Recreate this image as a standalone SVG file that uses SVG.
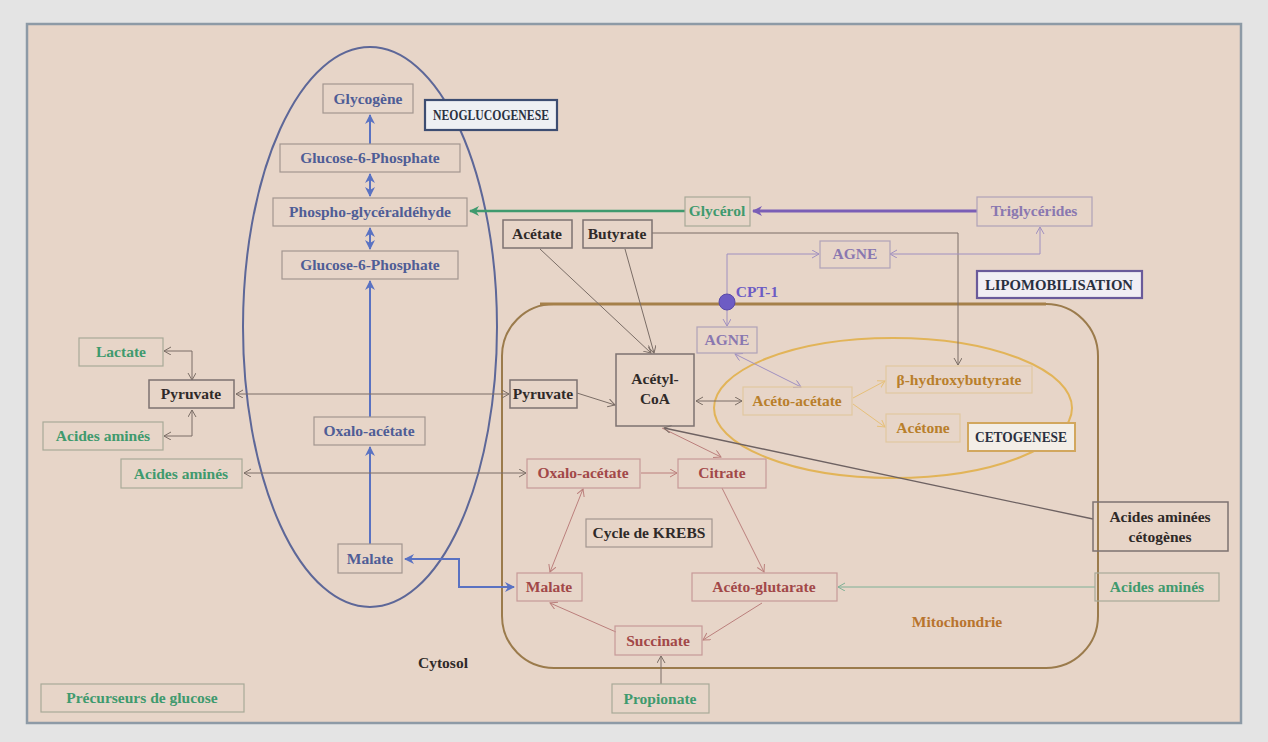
<svg xmlns="http://www.w3.org/2000/svg" width="1268" height="742" viewBox="0 0 1268 742">
<style>
  text { font-family: "Liberation Serif", "Times New Roman", serif; font-weight: bold; font-size: 15.5px; text-anchor: middle; }
  .box { fill: none; stroke: #a39790; stroke-width: 1.2; }
  .dbox { fill: none; stroke: #7d7270; stroke-width: 1.5; }
  .rbox { fill: none; stroke: #c79a98; stroke-width: 1.2; }
  .obox { fill: none; stroke: #e2c8a0; stroke-width: 1.2; }
  .gbox { fill: none; stroke: #a8aa98; stroke-width: 1.2; }
  .pbox { fill: none; stroke: #b0a2b8; stroke-width: 1.2; }
  .blue { fill: #4f5d96; }
  .green { fill: #3f9a6e; }
  .purple { fill: #8a78b0; }
  .dark { fill: #2f2a28; }
  .red { fill: #a24848; }
  .orange { fill: #b97f2c; }
  .lbl { fill: #2a3040; font-size: 14px; }
  .cb { fill: none; stroke: #5a72c2; stroke-width: 2; }
  .cg { fill: none; stroke: #7a6d66; stroke-width: 1; }
  .cr { fill: none; stroke: #bb7f7c; stroke-width: 1; }
  .co { fill: none; stroke: #e6c07a; stroke-width: 1; }
  .cgr { fill: none; stroke: #7fb096; stroke-width: 1; }
  .cp { fill: none; stroke: #a090c0; stroke-width: 1; }
</style>
<defs>
  <marker id="ab" markerUnits="userSpaceOnUse" markerWidth="12" markerHeight="12" refX="9" refY="5" orient="auto-start-reverse">
    <path d="M0,0 L10,5 L0,10 L3,5 Z" fill="#5a72c2"/>
  </marker>
  <marker id="ag" markerUnits="userSpaceOnUse" markerWidth="10" markerHeight="10" refX="7" refY="4" orient="auto-start-reverse">
    <path d="M0,0 L7,4 L0,8" fill="none" stroke="#7a6d66" stroke-width="1"/>
  </marker>
  <marker id="ar" markerUnits="userSpaceOnUse" markerWidth="10" markerHeight="10" refX="7" refY="4" orient="auto-start-reverse">
    <path d="M0,0 L7,4 L0,8" fill="none" stroke="#bb7f7c" stroke-width="1"/>
  </marker>
  <marker id="ao" markerUnits="userSpaceOnUse" markerWidth="10" markerHeight="10" refX="7" refY="4" orient="auto-start-reverse">
    <path d="M0,0 L7,4 L0,8" fill="none" stroke="#e6c07a" stroke-width="1"/>
  </marker>
  <marker id="agr" markerUnits="userSpaceOnUse" markerWidth="10" markerHeight="10" refX="7" refY="4" orient="auto-start-reverse">
    <path d="M0,0 L7,4 L0,8" fill="none" stroke="#7fb096" stroke-width="1"/>
  </marker>
  <marker id="ap" markerUnits="userSpaceOnUse" markerWidth="10" markerHeight="10" refX="7" refY="4" orient="auto-start-reverse">
    <path d="M0,0 L7,4 L0,8" fill="none" stroke="#a090c0" stroke-width="1"/>
  </marker>
  <marker id="agreen" markerUnits="userSpaceOnUse" markerWidth="12" markerHeight="12" refX="9" refY="5" orient="auto">
    <path d="M0,0 L10,5 L0,10 L3,5 Z" fill="#3f9a6e"/>
  </marker>
  <marker id="apur" markerUnits="userSpaceOnUse" markerWidth="12" markerHeight="12" refX="9" refY="5" orient="auto">
    <path d="M0,0 L10,5 L0,10 L3,5 Z" fill="#7a5eb6"/>
  </marker>
</defs>

<rect x="0" y="0" width="1268" height="742" fill="#e4e4e4"/>
<rect id="panel" x="27" y="24" width="1214" height="699" fill="#e7d5c8" stroke="#8d9aa6" stroke-width="2.5"/>

<!-- compartments -->
<g id="cytosol-ellipse">
  <ellipse cx="370" cy="327" rx="127" ry="280" fill="none" stroke="#5d6798" stroke-width="2"/>
</g>
<g id="mitochondrie">
  <rect x="502" y="304" width="596" height="364" rx="52" ry="52" fill="none" stroke="#9b7b4c" stroke-width="2"/>
  <line x1="540" y1="304" x2="1046" y2="304" stroke="#a5804a" stroke-width="3"/>
</g>
<g id="cetogenese-ellipse">
  <ellipse cx="893" cy="408" rx="179" ry="70" fill="none" stroke="#e2b458" stroke-width="2"/>
</g>

<!-- connectors -->
<g id="connectors">
  <line class="cb" x1="370" y1="144" x2="370" y2="115" marker-end="url(#ab)"/>
  <line class="cb" x1="370" y1="174" x2="370" y2="196" marker-start="url(#ab)" marker-end="url(#ab)"/>
  <line class="cb" x1="370" y1="228" x2="370" y2="249" marker-start="url(#ab)" marker-end="url(#ab)"/>
  <line class="cb" x1="370" y1="417" x2="370" y2="281" marker-end="url(#ab)"/>
  <line class="cb" x1="370" y1="544" x2="370" y2="447" marker-end="url(#ab)"/>
  <path class="cb" stroke-width="3" d="M405,559 L459,559 L459,587 L514,587" marker-start="url(#ab)" marker-end="url(#ab)"/>
  <line x1="685" y1="211" x2="470" y2="211" stroke="#3f9a6e" stroke-width="2.5" marker-end="url(#agreen)"/>
  <line x1="977" y1="211" x2="753" y2="211" stroke="#7a5eb6" stroke-width="3" marker-end="url(#apur)"/>
  <path class="cg" d="M652,233 L958,233 L958,365" marker-end="url(#ag)"/>
  <path class="cp" d="M890,254 L1040,254 L1040,227" marker-start="url(#ap)" marker-end="url(#ap)"/>
  <path class="cp" d="M727,300 L727,254 L819,254" marker-end="url(#ap)"/>
  <line class="cp" x1="727" y1="304" x2="727" y2="326" marker-end="url(#ap)"/>
  <line class="cp" x1="735" y1="354" x2="801" y2="387" marker-start="url(#ap)" marker-end="url(#ap)"/>
  <line class="cg" x1="696" y1="401" x2="742" y2="401" marker-start="url(#ag)" marker-end="url(#ag)"/>
  <line class="co" x1="853" y1="398" x2="885" y2="381" marker-end="url(#ao)"/>
  <line class="co" x1="853" y1="404" x2="885" y2="427" marker-end="url(#ao)"/>
  <line class="cg" x1="540" y1="249" x2="651" y2="353" marker-end="url(#ag)"/>
  <line class="cg" x1="625" y1="249" x2="654" y2="353" marker-end="url(#ag)"/>
  <line class="cg" x1="577" y1="393" x2="615" y2="405" marker-end="url(#ag)"/>
  <line class="cg" x1="236" y1="394" x2="509" y2="394" marker-start="url(#ag)" marker-end="url(#ag)"/>
  <path class="cg" d="M164,351 L192,351 L192,380" marker-start="url(#ag)" marker-end="url(#ag)"/>
  <path class="cg" d="M164,436 L192,436 L192,410" marker-start="url(#ag)" marker-end="url(#ag)"/>
  <line class="cg" x1="244" y1="473" x2="526" y2="473" marker-start="url(#ag)" marker-end="url(#ag)"/>
  <line class="cr" x1="641" y1="473" x2="677" y2="473" marker-end="url(#ar)"/>
  <line class="cr" x1="662" y1="428" x2="721" y2="457" marker-end="url(#ar)"/>
  <line x1="1093" y1="519" x2="664" y2="428" stroke="#6e6262" stroke-width="1.3" marker-end="url(#ag)"/>
  <line class="cr" x1="722" y1="488" x2="764" y2="572" marker-end="url(#ar)"/>
  <line class="cr" x1="762" y1="603" x2="703" y2="640" marker-end="url(#ar)"/>
  <line class="cr" x1="616" y1="632" x2="550" y2="603" marker-end="url(#ar)"/>
  <line class="cr" x1="550" y1="572" x2="583" y2="489" marker-start="url(#ar)" marker-end="url(#ar)"/>
  <line class="cgr" x1="1095" y1="587" x2="838" y2="587" marker-end="url(#agr)"/>
  <line class="cg" x1="661" y1="684" x2="661" y2="656" marker-end="url(#ag)"/>
</g>

<!-- nodes: cytosol / neoglucogenese -->
<g id="glycogene"><rect class="box" x="323" y="84" width="90" height="29"/><text class="blue" x="368" y="104">Glycogène</text></g>
<g id="neoglucogenese"><rect x="425" y="100" width="132" height="30" fill="#eef0f4" stroke="#3d4d72" stroke-width="2.2"/><text class="lbl" x="491" y="120" textLength="116" lengthAdjust="spacingAndGlyphs">NEOGLUCOGENESE</text></g>
<g id="g6p-1"><rect class="box" x="280" y="144" width="180" height="28"/><text class="blue" x="370" y="163">Glucose-6-Phosphate</text></g>
<g id="phospho"><rect class="box" x="273" y="198" width="194" height="28"/><text class="blue" x="370" y="217">Phospho-glycéraldéhyde</text></g>
<g id="g6p-2"><rect class="box" x="282" y="251" width="176" height="28"/><text class="blue" x="370" y="270">Glucose-6-Phosphate</text></g>
<g id="oxalo-cyto"><rect class="box" x="314" y="417" width="111" height="28"/><text class="blue" x="369" y="436">Oxalo-acétate</text></g>
<g id="malate-cyto"><rect class="box" x="338" y="544" width="64" height="29"/><text class="blue" x="370" y="564">Malate</text></g>

<!-- left precursors -->
<g id="lactate"><rect class="gbox" x="79" y="338" width="84" height="28"/><text class="green" x="121" y="357">Lactate</text></g>
<g id="pyruvate-cyto"><rect class="dbox" x="149" y="380" width="85" height="28"/><text class="dark" x="191" y="399">Pyruvate</text></g>
<g id="aa-1"><rect class="gbox" x="43" y="422" width="120" height="28"/><text class="green" x="103" y="441">Acides aminés</text></g>
<g id="aa-2"><rect class="gbox" x="121" y="459" width="121" height="29"/><text class="green" x="181" y="479">Acides aminés</text></g>
<g id="precurseurs"><rect class="gbox" x="41" y="684" width="203" height="28"/><text class="green" x="142" y="703">Précurseurs de glucose</text></g>
<g id="cytosol-label"><text class="dark" x="443" y="668">Cytosol</text></g>

<!-- lipomobilisation -->
<g id="glycerol"><rect class="gbox" x="685" y="197" width="65" height="29"/><text class="green" x="717" y="216">Glycérol</text></g>
<g id="triglycerides"><rect class="pbox" x="977" y="197" width="115" height="29"/><text class="purple" x="1034" y="216">Triglycérides</text></g>
<g id="acetate"><rect class="dbox" x="503" y="220" width="69" height="28"/><text class="dark" x="537" y="239">Acétate</text></g>
<g id="butyrate"><rect class="dbox" x="583" y="220" width="69" height="28"/><text class="dark" x="617" y="239">Butyrate</text></g>
<g id="agne-top"><rect class="pbox" x="820" y="241" width="70" height="27"/><text class="purple" x="855" y="259" font-size="13.5">AGNE</text></g>
<g id="lipomobilisation"><rect x="977" y="271" width="165" height="27" fill="#f1eef4" stroke="#6a5a9a" stroke-width="2.2"/><text class="lbl" x="1059" y="290" textLength="148" lengthAdjust="spacingAndGlyphs">LIPOMOBILISATION</text></g>
<g id="cpt1"><circle cx="727" cy="302" r="8" fill="#6d5cc4" stroke="#5a4aa8" stroke-width="1"/><text x="757" y="297" fill="#6d5cc4" font-weight="normal" font-size="13.5">CPT-1</text></g>

<!-- mitochondrie -->
<g id="agne-inner"><rect class="pbox" x="697" y="327" width="60" height="26"/><text class="purple" x="727" y="345" font-size="13.5">AGNE</text></g>
<g id="pyruvate-mito"><rect class="dbox" x="510" y="380" width="67" height="28"/><text class="dark" x="543" y="399">Pyruvate</text></g>
<g id="acetylcoa"><rect class="dbox" x="616" y="354" width="78" height="72"/><text class="dark" x="655" y="384">Acétyl-</text><text class="dark" x="655" y="404">CoA</text></g>
<g id="aceto-acetate"><rect class="obox" x="743" y="387" width="109" height="28"/><text class="orange" x="797" y="406">Acéto-acétate</text></g>
<g id="bhydroxy"><rect class="obox" x="886" y="366" width="146" height="27"/><text class="orange" x="959" y="385">β-hydroxybutyrate</text></g>
<g id="acetone"><rect class="obox" x="886" y="414" width="74" height="28"/><text class="orange" x="923" y="433">Acétone</text></g>
<g id="cetogenese"><rect x="968" y="423" width="107" height="28" fill="#f3eee7" stroke="#d2a75e" stroke-width="2"/><text class="lbl" x="1021" y="442" textLength="92" lengthAdjust="spacingAndGlyphs">CETOGENESE</text></g>
<g id="oxalo-mito"><rect class="rbox" x="527" y="459" width="113" height="29"/><text class="red" x="583" y="478">Oxalo-acétate</text></g>
<g id="citrate"><rect class="rbox" x="678" y="459" width="88" height="29"/><text class="red" x="722" y="478">Citrate</text></g>
<g id="krebs"><rect class="box" x="586" y="519" width="126" height="28"/><text class="dark" x="649" y="538">Cycle de KREBS</text></g>
<g id="malate-mito"><rect class="rbox" x="517" y="573" width="65" height="28"/><text class="red" x="549" y="592">Malate</text></g>
<g id="aceto-glutarate"><rect class="rbox" x="692" y="573" width="145" height="28"/><text class="red" x="764" y="592">Acéto-glutarate</text></g>
<g id="succinate"><rect class="rbox" x="615" y="626" width="87" height="29"/><text class="red" x="658" y="646">Succinate</text></g>
<g id="propionate"><rect class="gbox" x="612" y="684" width="97" height="29"/><text class="green" x="660" y="704">Propionate</text></g>
<g id="mito-label"><text x="957" y="627" fill="#b8742e">Mitochondrie</text></g>

<!-- right -->
<g id="aa-cetogenes"><rect class="dbox" x="1093" y="502" width="135" height="49"/><text class="dark" x="1160" y="522">Acides aminées</text><text class="dark" x="1160" y="542">cétogènes</text></g>
<g id="aa-right"><rect class="gbox" x="1095" y="573" width="124" height="28"/><text class="green" x="1157" y="592">Acides aminés</text></g>
</svg>
